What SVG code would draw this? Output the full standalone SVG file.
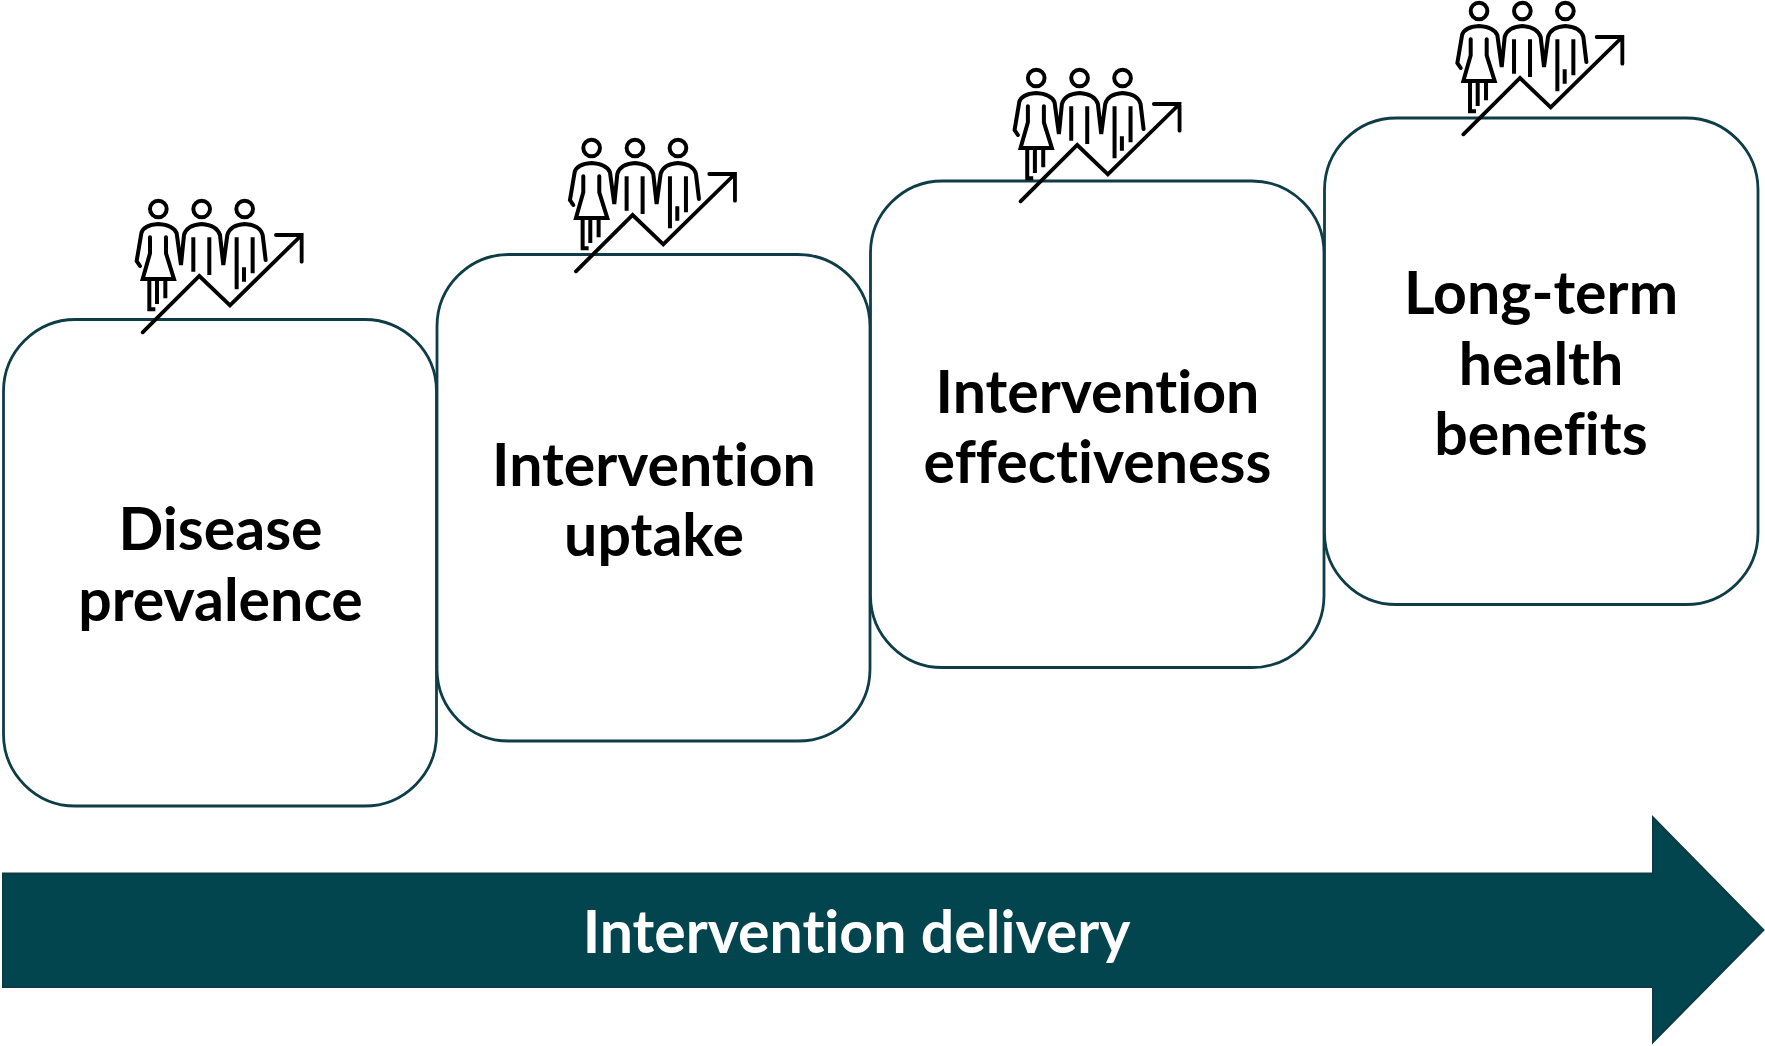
<svg xmlns="http://www.w3.org/2000/svg" width="1765" height="1046" viewBox="0 0 1765 1046">
<style>
.box{fill:#fff;stroke:#0f3d47;stroke-width:2.8}
.lbl{font-family:Lato,"Liberation Sans",sans-serif;font-weight:700;font-size:59px;fill:#000;text-anchor:middle;font-variant-ligatures:none}
.bar{fill:#02454f;stroke:#0c3a45;stroke-width:2}
.bartxt{font-family:Lato,"Liberation Sans",sans-serif;font-weight:700;font-size:59px;fill:#fff;text-anchor:middle;font-variant-ligatures:none}
.ic{fill:none;stroke:#000;stroke-width:12;stroke-linecap:round;stroke-linejoin:miter}
.ic .a{stroke-width:11.5}
</style>
<defs>
<g id="icon" class="ic" transform="translate(120,180) scale(0.3333)">
<circle cx="115" cy="87" r="25"/><circle cx="245" cy="87" r="25"/><circle cx="374" cy="87" r="25"/>
<path d="M60,258 L50,243 L64,160 Q70,135 115,132 Q160,135 170,160 L183,255 L192,165 Q200,135 245,132 Q290,135 300,165 L310,255 L322,165 Q330,135 374,132 Q420,135 428,165 L437,240"/>
<path d="M90,172 V220 L68,297 H162 L138,220 V172"/>
<path d="M88,297 V388 H106 M111,297 V372 M136,297 V355" stroke-linecap="butt"/>
<path d="M220,172 V275 M268,172 V285 M350,172 V328 M398,172 V280 M372,262 V305" stroke-linecap="butt"/>
<path class="a" d="M68,457 L238,288 L330,376 L545,165 M468,165 H545 V245"/>
</g>
</defs>
<g id="node-disease"><rect class="box" x="3.5" y="319.5" width="433" height="486.500" rx="72"/>
<text class="lbl" x="220.500" y="550">Disease</text><text class="lbl" x="220.500" y="620.500">prevalence</text></g>
<g id="node-uptake"><rect class="box" x="437" y="254.500" width="433" height="486.500" rx="72"/>
<text class="lbl" x="654" y="485.500">Intervention</text><text class="lbl" x="654" y="556">uptake</text></g>
<g id="node-effectiveness"><rect class="box" x="870.500" y="181" width="453.500" height="486.500" rx="72"/>
<text class="lbl" x="1097.500" y="412.500">Intervention</text><text class="lbl" x="1097.500" y="483">effectiveness</text></g>
<g id="node-benefits"><rect class="box" x="1324.500" y="118" width="433.500" height="486.500" rx="72"/>
<text class="lbl" x="1541" y="314">Long-term</text><text class="lbl" x="1541" y="385">health</text><text class="lbl" x="1541" y="455">benefits</text></g>
<g id="icon-1"><use href="#icon"/></g>
<g id="icon-2"><use href="#icon" x="433.300" y="-61"/></g>
<g id="icon-3"><use href="#icon" x="877.900" y="-131"/></g>
<g id="icon-4"><use href="#icon" x="1320.700" y="-198"/></g>
<g id="connectors"><path id="delivery-arrow" class="bar" d="M3,873.500 H1653 V817.500 L1763.500,930 L1653,1042 V987 H3 Z"/></g>
<text id="delivery-label" class="bartxt" x="856.500" y="953">Intervention delivery</text>
</svg>
